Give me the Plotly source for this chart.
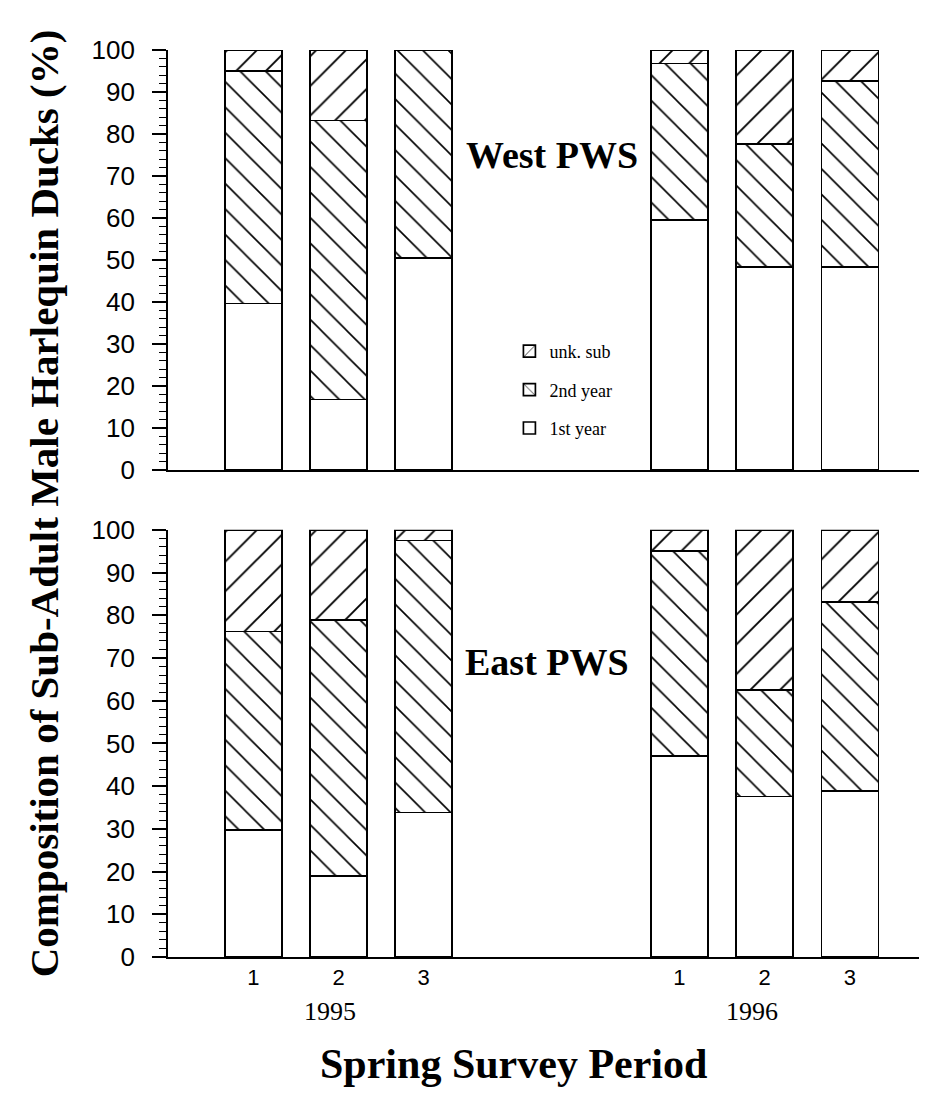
import plotly.graph_objects as go
from plotly.subplots import make_subplots

# ---- data ----
years = ["1995", "1996"]
periods = [1, 2, 3]
categories = ["1st year", "2nd year", "unk. sub"]

# values per bar: 1995 periods 1-3, then 1996 periods 1-3
west_first = [39.6, 16.8, 50.4, 59.6, 48.4, 48.4]
west_second = [55.4, 66.4, 49.6, 37.2, 29.2, 44.2]
west_unk = [5.0, 16.8, 0.0, 3.2, 22.4, 7.4]

east_first = [29.8, 19.0, 33.8, 47.1, 37.6, 38.8]
east_second = [46.4, 59.9, 63.7, 48.0, 24.9, 44.3]
east_unk = [23.8, 21.1, 2.5, 4.9, 37.5, 16.9]

region_labels = ["West PWS", "East PWS"]

# slot positions on the x axis: each year block of 3 periods, with 2 empty slots between years
year_gap = 5
xpos = [p + i * year_gap for i in range(len(years)) for p in periods]
tick_text = [str(p) for _ in years for p in periods]

SANS = "Liberation Sans, Arial, sans-serif"
SERIF = "Liberation Serif, Times New Roman, serif"

fig = make_subplots(rows=2, cols=1, shared_xaxes=False, vertical_spacing=0.066)

patterns = {"1st year": "", "2nd year": "\\", "unk. sub": "/"}
sizes = {"1st year": 18, "2nd year": 18, "unk. sub": 21}
ranks = {"1st year": 3, "2nd year": 2, "unk. sub": 1}

panels = [
    (west_first, west_second, west_unk),
    (east_first, east_second, east_unk),
]

for r, vals in enumerate(panels, start=1):
    for cat, v in zip(categories, vals):
        fig.add_trace(
            go.Bar(
                x=xpos,
                y=v,
                name=cat,
                legendgroup=cat,
                legendrank=ranks[cat],
                showlegend=(r == 1),
                width=0.67,
                marker=dict(
                    color="white",
                    line=dict(color="black", width=1.7),
                    pattern=dict(
                        shape=patterns[cat],
                        fgcolor="black",
                        fgopacity=1,
                        bgcolor="white",
                        size=sizes[cat],
                        solidity=0.09,
                        fillmode="replace",
                    ),
                ),
                hoverinfo="skip",
            ),
            row=r,
            col=1,
        )

fig.update_layout(
    width=919,
    height=1089,
    barmode="stack",
    plot_bgcolor="white",
    paper_bgcolor="white",
    margin=dict(l=160, r=2, t=42, b=140),
    showlegend=True,
    legend=dict(
        x=0.451,
        y=0.688,
        xanchor="left",
        yanchor="top",
        traceorder="grouped",
        tracegroupgap=12,
        font=dict(family=SERIF, size=18, color="black"),
        bgcolor="rgba(0,0,0,0)",
    ),
)

for r in (1, 2):
    fig.update_yaxes(
        range=[0, 100],
        tickvals=list(range(0, 101, 10)),
        ticks="outside",
        ticklen=14,
        tickwidth=1.5,
        tickcolor="black",
        minor=dict(dtick=2, ticks="outside", ticklen=7, tickwidth=1, tickcolor="black"),
        showline=True,
        linecolor="black",
        linewidth=1.8,
        showgrid=False,
        zeroline=False,
        tickfont=dict(family=SANS, size=26, color="black"),
        ticklabelstandoff=12,
        row=r,
        col=1,
    )
    fig.update_xaxes(
        range=[0, 8.88],
        tickvals=xpos,
        ticktext=tick_text,
        ticks="",
        showline=True,
        linecolor="black",
        linewidth=1.8,
        showgrid=False,
        zeroline=False,
        showticklabels=(r == 2),
        tickfont=dict(family=SANS, size=22, color="black"),
        row=r,
        col=1,
    )

fig.update_layout(
    yaxis=dict(domain=[0.537, 1.0]),
    yaxis2=dict(domain=[0.0, 0.471]),
)

# region labels
fig.add_annotation(text="<b>%s</b>" % region_labels[0], x=4.5, y=75, xref="x", yref="y",
                   showarrow=False, font=dict(family=SERIF, size=38, color="black"))
fig.add_annotation(text="<b>%s</b>" % region_labels[1], x=4.45, y=69, xref="x2", yref="y2",
                   showarrow=False, font=dict(family=SERIF, size=38, color="black"))

# year labels
for i, yr in enumerate(years):
    fig.add_annotation(text=yr, x=periods[1] + i * year_gap - 0.1 - 0.05 * i, y=-0.06,
                       xref="x2", yref="paper", showarrow=False, xanchor="center", yanchor="middle",
                       font=dict(family=SERIF, size=26, color="black"))

# axis titles
fig.add_annotation(text="<b>Spring Survey Period</b>", x=0.457, y=-0.118, xref="paper", yref="paper",
                   xanchor="center", yanchor="middle",
                   showarrow=False, font=dict(family=SERIF, size=42, color="black"))
fig.add_annotation(text="<b>Composition of Sub-Adult Male Harlequin Ducks (%)</b>",
                   x=-0.164, y=0.5, xref="paper", yref="paper", textangle=-90,
                   xanchor="center", yanchor="middle",
                   showarrow=False, font=dict(family=SERIF, size=41, color="black"))

fig.write_html("out.html")
